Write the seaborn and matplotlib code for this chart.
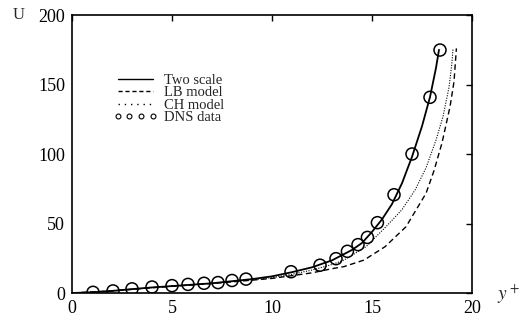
import numpy as np
import pandas as pd
import matplotlib
matplotlib.use("Agg")
import matplotlib.pyplot as plt
from matplotlib.lines import Line2D
import seaborn as sns

# Mean velocity profiles U(y+)
two_scale_y = [0, 1, 2, 3, 4, 5, 6, 7, 8, 9, 10, 11, 12, 13, 14, 14.5, 15, 15.5,
               16, 16.5, 17, 17.5, 17.9, 18.2, 18.35]
two_scale_u = [0, 0.5, 1.5, 2.8, 4, 5, 6, 7, 8.5, 10, 12, 15, 18.5, 23.5, 31, 36,
               44, 53, 64, 79, 98, 120, 141, 162, 175]

lb_y = [0, 2, 4, 6, 8, 10, 11, 12, 13, 13.6, 14.6, 15.65, 16.7, 17.7, 18.1, 18.5,
        18.9, 19.1, 19.22]
lb_u = [0, 1.5, 3.8, 5.8, 8, 10.5, 12.5, 14.5, 17.5, 19, 23.7, 33.3, 47.7, 71.7,
        88, 108, 134, 152, 176]

ch_y = [0, 2, 4, 6, 8, 10, 11, 12, 13, 13.6, 14.7, 15.7, 16.5, 17.15, 17.7, 18.2,
        18.55, 18.85, 19.0, 19.05]
ch_u = [0, 1.5, 3.9, 5.9, 8.2, 11, 13.5, 16.5, 20.5, 23.7, 33.3, 47.7, 60, 74, 90,
        110, 127, 148, 166, 176]

dns_y = [1.05, 2.05, 3.0, 4.0, 5.0, 5.8, 6.6, 7.3, 8.0, 8.7, 10.95, 12.4, 13.2,
         13.77, 14.3, 14.77, 15.27, 16.1, 17.0, 17.9, 18.4]
dns_u = [0.5, 1.5, 3, 4.3, 5.3, 6.2, 7, 7.5, 9, 10, 15.3, 20, 24.7, 30, 34.8, 40,
         50.6, 70.7, 100, 140.8, 174.8]

legend_labels = ["Two scale", "LB model", "CH model", "DNS data"]
x_ticks = [0, 5, 10, 15, 20]
y_ticks = [0, 50, 100, 150, 200]

sns.set_style("white")
plt.rcParams["font.family"] = ["Liberation Serif", "DejaVu Serif"]
plt.rcParams["mathtext.fontset"] = "stix"

fig = plt.figure(figsize=(5.2, 3.21), dpi=100)
ax = fig.add_axes([0.1385, 0.0872, 0.7692, 0.8660])

sns.lineplot(x=two_scale_y, y=two_scale_u, ax=ax, color="black", lw=1.3,
             sort=False, estimator=None)
sns.lineplot(x=lb_y, y=lb_u, ax=ax, color="black", lw=1.0, sort=False,
             estimator=None)
ax.lines[-1].set_dashes([4, 2.5])
sns.lineplot(x=ch_y, y=ch_u, ax=ax, color="black", lw=0.8, sort=False,
             estimator=None)
ax.lines[-1].set_dashes([1, 1.3])
sns.scatterplot(x=dns_y, y=dns_u, ax=ax, marker="o", s=75, facecolors="none",
                edgecolor="black", linewidth=1.1, zorder=5)

ax.set_xlim(0, 20)
ax.set_ylim(0, 200)
ax.set_xticks(x_ticks)
ax.set_yticks(y_ticks)
ax.tick_params(direction="in", length=4, width=1, top=True, right=True,
               labelsize=13, pad=5, colors="black")
for sp in ax.spines.values():
    sp.set_color("black")
    sp.set_linewidth(1.2)

fig.text(0.025, 0.953, "U", fontsize=12, ha="left", va="center")
fig.text(0.955, 0.082, "$y^+$", fontsize=14, ha="left", va="center")

handles = [
    Line2D([], [], color="black", lw=1.0),
    Line2D([], [], color="black", lw=1.0, dashes=[3, 2]),
    Line2D([], [], color="black", lw=1.0, dashes=[1, 3.5]),
    Line2D([], [], color="black", lw=0, marker="o", markersize=3.5,
           markerfacecolor="none", markeredgewidth=0.8),
]
ax.legend(handles, legend_labels, loc="upper left", bbox_to_anchor=(0.085, 0.815),
          frameon=False, fontsize=10.5, numpoints=4, handlelength=3.0,
          handletextpad=0.5, labelspacing=-0.05, borderpad=0)

fig.savefig("out.png", dpi=100)
